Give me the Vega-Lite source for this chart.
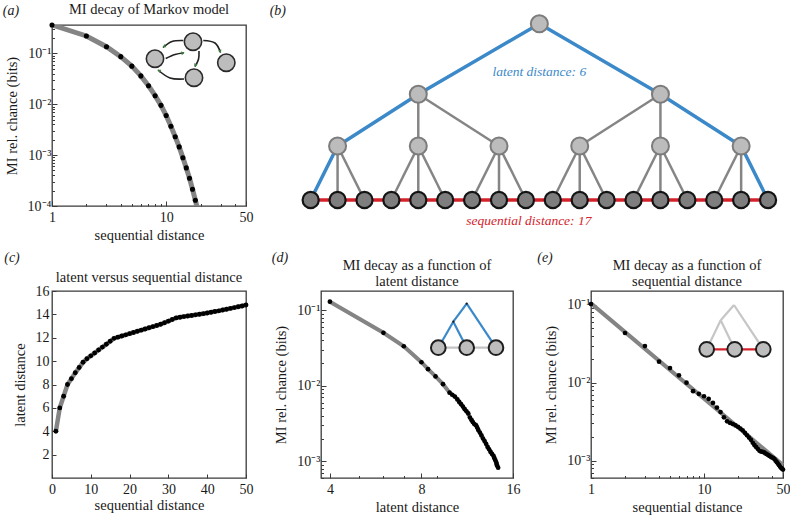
{
"$schema": "https://vega.github.io/schema/vega-lite/v6.json",
"padding": {"left": 2, "top": 0, "right": 0, "bottom": 0},
"background": "white",
"datasets": {
 "a_pts": [{"d":1,"mi":0.36},{"d":2,"mi":0.219},{"d":3,"mi":0.135},{"d":4,"mi":0.086},{"d":5,"mi":0.056},{"d":6,"mi":0.036},{"d":7,"mi":0.023},{"d":8,"mi":0.0147},{"d":9,"mi":0.0095},{"d":10,"mi":0.006},{"d":11,"mi":0.0037},{"d":12,"mi":0.0023},{"d":13,"mi":0.00145},{"d":14,"mi":0.00089},{"d":15,"mi":0.00056},{"d":16,"mi":0.00035},{"d":17,"mi":0.000214},{"d":18,"mi":0.00013}],
 "a_fit": [{"d":1,"mi":0.36},{"d":2,"mi":0.219},{"d":3,"mi":0.135},{"d":4,"mi":0.086},{"d":5,"mi":0.056},{"d":6,"mi":0.036},{"d":7,"mi":0.023},{"d":8,"mi":0.0147},{"d":9,"mi":0.0095},{"d":10,"mi":0.006},{"d":11,"mi":0.0037},{"d":12,"mi":0.0023},{"d":13,"mi":0.00145},{"d":14,"mi":0.00089},{"d":15,"mi":0.00056},{"d":16,"mi":0.00035},{"d":17,"mi":0.000214},{"d":18,"mi":0.00013},{"d":19,"mi":0.00008}],
 "a_nodes": [{"u":103,"v":33.7},{"u":141,"v":16.7},{"u":174.3,"v":37.7},{"u":142,"v":52.7}],
 "a_arcs": [
  {"arc":"A","k":0,"u":131.3,"v":15.5},{"arc":"A","k":1,"u":120,"v":16.5},{"arc":"A","k":2,"u":111,"v":22.5},
  {"arc":"B","k":0,"u":113.7,"v":33.5},{"arc":"B","k":1,"u":123,"v":29.5},{"arc":"B","k":2,"u":132,"v":27.7},
  {"arc":"C","k":0,"u":151.3,"v":15.5},{"arc":"C","k":1,"u":163,"v":18},{"arc":"C","k":2,"u":168.5,"v":27.5},
  {"arc":"D","k":0,"u":147,"v":26},{"arc":"D","k":1,"u":146.5,"v":34.3},{"arc":"D","k":2,"u":143,"v":41.5},
  {"arc":"E","k":0,"u":132,"v":54},{"arc":"E","k":1,"u":118,"v":53},{"arc":"E","k":2,"u":106,"v":45}],
 "a_heads": [{"u":112,"v":21.5,"ang":240},{"u":131,"v":28,"ang":76},{"u":168.3,"v":26.5,"ang":155},{"u":143.3,"v":40.5,"ang":200},{"u":107,"v":45.5,"ang":300}],
 "b_int": [{"x":8.5,"v":176.3},{"x":4,"v":105.7},{"x":13,"v":105.7},{"x":1,"v":54},{"x":4,"v":54},{"x":7,"v":54},{"x":10,"v":54},{"x":13,"v":54},{"x":16,"v":54}],
 "b_leaf": [{"x":0,"v":0},{"x":1,"v":0},{"x":2,"v":0},{"x":3,"v":0},{"x":4,"v":0},{"x":5,"v":0},{"x":6,"v":0},{"x":7,"v":0},{"x":8,"v":0},{"x":9,"v":0},{"x":10,"v":0},{"x":11,"v":0},{"x":12,"v":0},{"x":13,"v":0},{"x":14,"v":0},{"x":15,"v":0},{"x":16,"v":0},{"x":17,"v":0}],
 "b_gray": [
  {"x":4,"v":105.7,"x2":4,"v2":54},{"x":4,"v":105.7,"x2":7,"v2":54},
  {"x":13,"v":105.7,"x2":10,"v2":54},{"x":13,"v":105.7,"x2":13,"v2":54},
  {"x":1,"v":54,"x2":1,"v2":0},{"x":1,"v":54,"x2":2,"v2":0},
  {"x":4,"v":54,"x2":3,"v2":0},{"x":4,"v":54,"x2":4,"v2":0},{"x":4,"v":54,"x2":5,"v2":0},
  {"x":7,"v":54,"x2":6,"v2":0},{"x":7,"v":54,"x2":7,"v2":0},{"x":7,"v":54,"x2":8,"v2":0},
  {"x":10,"v":54,"x2":9,"v2":0},{"x":10,"v":54,"x2":10,"v2":0},{"x":10,"v":54,"x2":11,"v2":0},
  {"x":13,"v":54,"x2":12,"v2":0},{"x":13,"v":54,"x2":13,"v2":0},{"x":13,"v":54,"x2":14,"v2":0},
  {"x":16,"v":54,"x2":15,"v2":0},{"x":16,"v":54,"x2":16,"v2":0}],
 "b_blue": [
  {"x":0,"v":0,"x2":1,"v2":54},{"x":1,"v":54,"x2":4,"v2":105.7},{"x":4,"v":105.7,"x2":8.5,"v2":176.3},
  {"x":8.5,"v":176.3,"x2":13,"v2":105.7},{"x":13,"v":105.7,"x2":16,"v2":54},{"x":16,"v":54,"x2":17,"v2":0}],
 "b_red": [{"x":0,"v":0,"x2":17,"v2":0}],
 "c_pts": [{"d":1,"l":4.0},{"d":2,"l":6.0},{"d":3,"l":7.0},{"d":4,"l":8.0},{"d":5,"l":8.5},{"d":6,"l":9.0},{"d":7,"l":9.45},{"d":8,"l":9.9},{"d":9,"l":10.2},{"d":10,"l":10.45},{"d":11,"l":10.7},{"d":12,"l":10.95},{"d":13,"l":11.2},{"d":14,"l":11.45},{"d":15,"l":11.7},{"d":16,"l":11.95},{"d":17,"l":12.05},{"d":18,"l":12.15},{"d":19,"l":12.25},{"d":20,"l":12.35},{"d":21,"l":12.45},{"d":22,"l":12.55},{"d":23,"l":12.65},{"d":24,"l":12.75},{"d":25,"l":12.85},{"d":26,"l":12.95},{"d":27,"l":13.05},{"d":28,"l":13.15},{"d":29,"l":13.28},{"d":30,"l":13.42},{"d":31,"l":13.56},{"d":32,"l":13.7},{"d":33,"l":13.76},{"d":34,"l":13.81},{"d":35,"l":13.86},{"d":36,"l":13.91},{"d":37,"l":13.96},{"d":38,"l":14.01},{"d":39,"l":14.06},{"d":40,"l":14.12},{"d":41,"l":14.18},{"d":42,"l":14.24},{"d":43,"l":14.3},{"d":44,"l":14.37},{"d":45,"l":14.44},{"d":46,"l":14.51},{"d":47,"l":14.58},{"d":48,"l":14.65},{"d":49,"l":14.72},{"d":50,"l":14.8}],
 "d_pts": [{"l":4,"mi":0.13},{"l":6,"mi":0.0503},{"l":7,"mi":0.0334},{"l":8,"mi":0.0205},{"l":8.41,"mi":0.0166},{"l":8.9,"mi":0.0133},{"l":9.42,"mi":0.0105},{"l":9.9,"mi":0.0081},{"l":10.1,"mi":0.0076},{"l":10.3,"mi":0.0072},{"l":10.5,"mi":0.0066},{"l":10.65,"mi":0.0061},{"l":10.8,"mi":0.0057},{"l":10.95,"mi":0.0053},{"l":11.1,"mi":0.0049},{"l":11.25,"mi":0.0046},{"l":11.4,"mi":0.0043},{"l":11.55,"mi":0.0038},{"l":11.7,"mi":0.0035},{"l":11.8,"mi":0.0033},{"l":11.95,"mi":0.0031},{"l":12.1,"mi":0.003},{"l":12.2,"mi":0.0028},{"l":12.3,"mi":0.0026},{"l":12.45,"mi":0.0024},{"l":12.6,"mi":0.0022},{"l":12.75,"mi":0.002},{"l":12.9,"mi":0.00185},{"l":13.05,"mi":0.0017},{"l":13.2,"mi":0.00155},{"l":13.35,"mi":0.00144},{"l":13.5,"mi":0.00133},{"l":13.65,"mi":0.00125},{"l":13.8,"mi":0.00118},{"l":13.9,"mi":0.0011},{"l":14.0,"mi":0.00103},{"l":14.1,"mi":0.00096},{"l":14.15,"mi":0.0009},{"l":14.2,"mi":0.00087},{"l":14.3,"mi":0.00082}],
 "e_pts": [{"d":1,"mi":0.102},{"d":2,"mi":0.0434},{"d":3,"mi":0.0295},{"d":4,"mi":0.0186},{"d":5,"mi":0.0154},{"d":6,"mi":0.01245},{"d":7,"mi":0.01},{"d":8,"mi":0.0078},{"d":9,"mi":0.0072},{"d":10,"mi":0.0067},{"d":11,"mi":0.0062},{"d":12,"mi":0.0055},{"d":13,"mi":0.0048},{"d":14,"mi":0.0042},{"d":15,"mi":0.0036},{"d":16,"mi":0.0032},{"d":17,"mi":0.00305},{"d":18,"mi":0.00295},{"d":19,"mi":0.00283},{"d":20,"mi":0.00272},{"d":21,"mi":0.00258},{"d":22,"mi":0.00245},{"d":23,"mi":0.00228},{"d":24,"mi":0.00212},{"d":25,"mi":0.00198},{"d":26,"mi":0.00185},{"d":27,"mi":0.0017},{"d":28,"mi":0.00158},{"d":29,"mi":0.00149},{"d":30,"mi":0.00141},{"d":31,"mi":0.00134},{"d":32,"mi":0.00131},{"d":33,"mi":0.0013},{"d":34,"mi":0.00128},{"d":35,"mi":0.00124},{"d":36,"mi":0.00121},{"d":37,"mi":0.00118},{"d":38,"mi":0.00115},{"d":39,"mi":0.00112},{"d":40,"mi":0.0011},{"d":41,"mi":0.00108},{"d":42,"mi":0.00105},{"d":43,"mi":0.001},{"d":44,"mi":0.00096},{"d":45,"mi":0.00092},{"d":46,"mi":0.00088},{"d":47,"mi":0.00084},{"d":48,"mi":0.00081},{"d":49,"mi":0.00079},{"d":50,"mi":0.00077}],
 "e_fit": [{"d":1,"mi":0.104},{"d":50,"mi":0.00088}],
 "d_blue": [{"u":145.7,"v":12.7,"u2":132.3,"v2":30.7},{"u":132.3,"v":30.7,"u2":117.3,"v2":56.7},{"u":132.3,"v":30.7,"u2":145.7,"v2":56.7},{"u":145.7,"v":12.7,"u2":175,"v2":56.7}],
 "d_base": [{"u":117.3,"v":56.7,"u2":175,"v2":56.7}],
 "d_leaves": [{"u":117.3,"v":56.7},{"u":145.7,"v":56.7},{"u":175,"v":56.7}],
 "d_joints": [{"u":145.7,"v":12.7},{"u":132.3,"v":30.7}],
 "e_gray": [{"u":143,"v":14,"u2":129.7,"v2":29.3},{"u":129.7,"v":29.3,"u2":115.7,"v2":58.3},{"u":129.7,"v":29.3,"u2":143.7,"v2":58.3},{"u":143,"v":14,"u2":172.3,"v2":58.3}],
 "e_base": [{"u":115.7,"v":58.3,"u2":172.3,"v2":58.3}],
 "e_leaves": [{"u":115.7,"v":58.3},{"u":143.7,"v":58.3},{"u":172.3,"v":58.3}]
},
"vconcat": [
 {"hconcat": [
  {
   "width": 194, "height": 181,
   "layer": [
    {"layer": [
     {"data": {"name": "a_fit"}, "mark": {"type": "line", "color": "#848484", "strokeWidth": 5, "clip": true},
      "encoding": {
       "x": {"field": "d", "type": "quantitative", "scale": {"type": "log", "domain": [1, 50], "nice": false},
        "axis": {"title": "sequential distance", "values": [1,2,3,4,5,6,7,8,9,10,20,30,40,50], "tickCount": 50, "labelOverlap": false, "labelPadding": 9,
         "labelExpr": "datum.value == 1 || datum.value == 10 || datum.value == 50 ? '' + datum.value : ''",
         "tickSize": {"condition": {"test": "datum.value == 1 || datum.value == 10 || datum.value == 50", "value": -5}, "value": -2.5}}},
       "y": {"field": "mi", "type": "quantitative", "scale": {"type": "log", "domain": [0.0001, 0.36], "nice": false},
        "axis": {"title": "MI rel. chance (bits)", "tickCount": 50, "labelOverlap": false, "labelPadding": 6, "values": [0.0001,0.0002,0.0003,0.0004,0.0005,0.0006,0.0007,0.0008,0.0009,0.001,0.002,0.003,0.004,0.005,0.006,0.007,0.008,0.009,0.01,0.02,0.03,0.04,0.05,0.06,0.07,0.08,0.09,0.1,0.2,0.3],
         "labelExpr": "datum.value == 0.1 ? '10⁻¹' : datum.value == 0.01 ? '10⁻²' : datum.value == 0.001 ? '10⁻³' : datum.value == 0.0001 ? '10⁻⁴' : ''",
         "tickSize": {"condition": {"test": "datum.value == 0.1 || datum.value == 0.01 || datum.value == 0.001 || datum.value == 0.0001", "value": -5}, "value": -2.5}}}
      }},
     {"data": {"name": "a_pts"}, "mark": {"type": "circle", "color": "black", "size": 26, "opacity": 1},
      "encoding": {"x": {"field": "d", "type": "quantitative"}, "y": {"field": "mi", "type": "quantitative"}}}
    ]},
    {"layer": [
     {"data": {"name": "a_arcs"}, "mark": {"type": "line", "color": "#222222", "strokeWidth": 1.6, "interpolate": "natural"},
      "encoding": {
       "x": {"field": "u", "type": "quantitative", "scale": {"domain": [0, 194], "nice": false, "zero": false}, "axis": null},
       "y": {"field": "v", "type": "quantitative", "scale": {"domain": [0, 181], "nice": false, "zero": false, "reverse": true}, "axis": null},
       "detail": {"field": "arc"}, "order": {"field": "k"}}},
     {"data": {"name": "a_nodes"}, "mark": {"type": "circle", "fill": "#bdbdbd", "stroke": "#2a2a2a", "strokeWidth": 1.6, "size": 300, "opacity": 1},
      "encoding": {"x": {"field": "u", "type": "quantitative"}, "y": {"field": "v", "type": "quantitative"}}},
     {"data": {"name": "a_heads"}, "mark": {"type": "point", "shape": "triangle-up", "filled": true, "color": "#3f7f3f", "size": 14, "opacity": 1},
      "encoding": {"x": {"field": "u", "type": "quantitative"}, "y": {"field": "v", "type": "quantitative"}, "angle": {"field": "ang", "type": "quantitative", "scale": null}}},
     {"data": {"values": [{"t": "(a)"}]}, "mark": {"type": "text", "fontStyle": "italic", "fontSize": 14, "color": "#1a1a1a"},
      "encoding": {"x": {"datum": -41}, "y": {"datum": -14}, "text": {"field": "t"}}},
     {"data": {"values": [{"t": "MI decay of Markov model"}]}, "mark": {"type": "text", "fontSize": 14.5, "color": "#1a1a1a"},
      "encoding": {"x": {"datum": 97}, "y": {"datum": -15.5}, "text": {"field": "t"}}}
    ]}
   ],
   "resolve": {"scale": {"x": "independent", "y": "independent"}}
  },
  {
   "width": 512, "height": 200,
   "view": {"stroke": null},
   "layer": [
    {"data": {"name": "b_gray"}, "mark": {"type": "rule", "color": "#858585", "strokeWidth": 2.5},
     "encoding": {
      "x": {"field": "x", "type": "quantitative", "scale": {"domain": [-1.4, 17.63], "nice": false, "zero": false}, "axis": null},
      "y": {"field": "v", "type": "quantitative", "scale": {"domain": [-25, 175], "nice": false, "zero": false}, "axis": null},
      "x2": {"field": "x2"}, "y2": {"field": "v2"}}},
    {"data": {"name": "b_red"}, "mark": {"type": "rule", "color": "#d3222b", "strokeWidth": 3.5},
     "encoding": {"x": {"field": "x", "type": "quantitative"}, "y": {"field": "v", "type": "quantitative"}, "x2": {"field": "x2"}, "y2": {"field": "v2"}}},
    {"data": {"name": "b_blue"}, "mark": {"type": "rule", "color": "#3b89c9", "strokeWidth": 3.5, "strokeCap": "round"},
     "encoding": {"x": {"field": "x", "type": "quantitative"}, "y": {"field": "v", "type": "quantitative"}, "x2": {"field": "x2"}, "y2": {"field": "v2"}}},
    {"data": {"name": "b_int"}, "mark": {"type": "circle", "fill": "#bcbcbc", "stroke": "#7c7c7c", "strokeWidth": 2, "size": 290, "opacity": 1},
     "encoding": {"x": {"field": "x", "type": "quantitative"}, "y": {"field": "v", "type": "quantitative"}}},
    {"data": {"name": "b_leaf"}, "mark": {"type": "circle", "fill": "#7e7e7e", "stroke": "#141414", "strokeWidth": 2.2, "size": 260, "opacity": 1},
     "encoding": {"x": {"field": "x", "type": "quantitative"}, "y": {"field": "v", "type": "quantitative"}}},
    {"data": {"values": [{"t": "latent distance: 6"}]}, "mark": {"type": "text", "fontStyle": "italic", "fontSize": 13.5, "color": "#3b89c9"},
     "encoding": {"x": {"datum": 8.5}, "y": {"datum": 128}, "text": {"field": "t"}}},
    {"data": {"values": [{"t": "sequential distance: 17"}]}, "mark": {"type": "text", "fontStyle": "italic", "fontSize": 13.5, "color": "#d3222b"},
     "encoding": {"x": {"datum": 8.11}, "y": {"datum": -21}, "text": {"field": "t"}}},
    {"data": {"values": [{"t": "(b)"}]}, "mark": {"type": "text", "fontStyle": "italic", "fontSize": 14, "color": "#1a1a1a"},
     "encoding": {"x": {"datum": -1.22}, "y": {"datum": 189}, "text": {"field": "t"}}}
   ]
  }
 ], "spacing": 15},
 {"hconcat": [
  {
   "width": 194, "height": 187,
   "layer": [
    {"layer": [
     {"data": {"name": "c_pts"}, "mark": {"type": "line", "color": "#848484", "strokeWidth": 4.5},
      "encoding": {
       "x": {"field": "d", "type": "quantitative", "scale": {"domain": [0, 50], "nice": false, "zero": false},
        "axis": {"title": "sequential distance", "values": [0,10,20,30,40,50], "format": "d", "tickCount": 50, "labelOverlap": false, "tickSize": -4, "labelPadding": 8}},
       "y": {"field": "l", "type": "quantitative", "scale": {"domain": [0, 16], "nice": false, "zero": false},
        "axis": {"title": "latent distance", "values": [2,4,6,8,10,12,14,16], "format": "d", "tickCount": 50, "labelOverlap": false, "tickSize": -4, "labelPadding": 7}}}},
     {"data": {"name": "c_pts"}, "mark": {"type": "circle", "color": "black", "size": 24, "opacity": 1},
      "encoding": {"x": {"field": "d", "type": "quantitative"}, "y": {"field": "l", "type": "quantitative"}}}
    ]},
    {"layer": [
     {"data": {"values": [{"t": "(c)"}]}, "mark": {"type": "text", "fontStyle": "italic", "fontSize": 14, "color": "#1a1a1a"},
      "encoding": {
       "x": {"datum": -40, "type": "quantitative", "scale": {"domain": [0, 194], "nice": false, "zero": false}, "axis": null},
       "y": {"datum": -33, "type": "quantitative", "scale": {"domain": [0, 187], "nice": false, "zero": false, "reverse": true}, "axis": null},
       "text": {"field": "t"}}},
     {"data": {"values": [{"t": "latent versus sequential distance"}]}, "mark": {"type": "text", "fontSize": 14.5, "color": "#1a1a1a"},
      "encoding": {"x": {"datum": 97}, "y": {"datum": -13}, "text": {"field": "t"}}}
    ]}
   ],
   "resolve": {"scale": {"x": "independent", "y": "independent"}}
  },
  {
   "width": 192, "height": 187,
   "layer": [
    {"layer": [
     {"data": {"name": "d_pts"}, "mark": {"type": "line", "color": "#848484", "strokeWidth": 4},
      "encoding": {
       "x": {"field": "l", "type": "quantitative", "scale": {"type": "log", "domain": [3.74, 16], "nice": false},
        "axis": {"title": "latent distance", "values": [4,5,6,7,8,9,16], "tickCount": 50, "labelOverlap": false, "labelPadding": 9,
         "labelExpr": "datum.value == 4 || datum.value == 8 || datum.value == 16 ? '' + datum.value : ''",
         "tickSize": {"condition": {"test": "datum.value == 4 || datum.value == 8 || datum.value == 16", "value": -5}, "value": -2.5}}},
       "y": {"field": "mi", "type": "quantitative", "scale": {"type": "log", "domain": [0.0006, 0.18], "nice": false},
        "axis": {"title": "MI rel. chance (bits)", "tickCount": 50, "labelOverlap": false, "labelPadding": 6, "values": [0.0006,0.0007,0.0008,0.0009,0.001,0.002,0.003,0.004,0.005,0.006,0.007,0.008,0.009,0.01,0.02,0.03,0.04,0.05,0.06,0.07,0.08,0.09,0.1],
         "labelExpr": "datum.value == 0.1 ? '10⁻¹' : datum.value == 0.01 ? '10⁻²' : datum.value == 0.001 ? '10⁻³' : ''",
         "tickSize": {"condition": {"test": "datum.value == 0.1 || datum.value == 0.01 || datum.value == 0.001", "value": -5}, "value": -2.5}}}
      }},
     {"data": {"name": "d_pts"}, "mark": {"type": "circle", "color": "black", "size": 22, "opacity": 1},
      "encoding": {"x": {"field": "l", "type": "quantitative"}, "y": {"field": "mi", "type": "quantitative"}}}
    ]},
    {"layer": [
     {"data": {"name": "d_base"}, "mark": {"type": "rule", "color": "#c4c4c4", "strokeWidth": 2.2},
      "encoding": {
       "x": {"field": "u", "type": "quantitative", "scale": {"domain": [0, 192], "nice": false, "zero": false}, "axis": null},
       "y": {"field": "v", "type": "quantitative", "scale": {"domain": [0, 187], "nice": false, "zero": false, "reverse": true}, "axis": null},
       "x2": {"field": "u2"}, "y2": {"field": "v2"}}},
     {"data": {"name": "d_blue"}, "mark": {"type": "rule", "color": "#3b89c9", "strokeWidth": 2.2},
      "encoding": {"x": {"field": "u", "type": "quantitative"}, "y": {"field": "v", "type": "quantitative"}, "x2": {"field": "u2"}, "y2": {"field": "v2"}}},
     {"data": {"name": "d_joints"}, "mark": {"type": "circle", "color": "#1a1a1a", "size": 5, "opacity": 1},
      "encoding": {"x": {"field": "u", "type": "quantitative"}, "y": {"field": "v", "type": "quantitative"}}},
     {"data": {"name": "d_leaves"}, "mark": {"type": "circle", "fill": "#bdbdbd", "stroke": "#1e1e1e", "strokeWidth": 2, "size": 215, "opacity": 1},
      "encoding": {"x": {"field": "u", "type": "quantitative"}, "y": {"field": "v", "type": "quantitative"}}},
     {"data": {"values": [{"t": "(d)"}]}, "mark": {"type": "text", "fontStyle": "italic", "fontSize": 14, "color": "#1a1a1a"},
      "encoding": {"x": {"datum": -41}, "y": {"datum": -33}, "text": {"field": "t"}}},
     {"data": {"values": [{"t": ["MI decay as a function of", "latent distance"]}]}, "mark": {"type": "text", "fontSize": 14.5, "lineHeight": 16, "color": "#1a1a1a"},
      "encoding": {"x": {"datum": 96}, "y": {"datum": -25}, "text": {"field": "t"}}}
    ]}
   ],
   "resolve": {"scale": {"x": "independent", "y": "independent"}}
  },
  {
   "width": 192, "height": 187,
   "layer": [
    {"layer": [
     {"data": {"name": "e_fit"}, "mark": {"type": "line", "color": "#848484", "strokeWidth": 4},
      "encoding": {
       "x": {"field": "d", "type": "quantitative", "scale": {"type": "log", "domain": [1, 50], "nice": false},
        "axis": {"title": "sequential distance", "values": [1,2,3,4,5,6,7,8,9,10,20,30,40,50], "tickCount": 50, "labelOverlap": false, "labelPadding": 9,
         "labelExpr": "datum.value == 1 || datum.value == 10 || datum.value == 50 ? '' + datum.value : ''",
         "tickSize": {"condition": {"test": "datum.value == 1 || datum.value == 10 || datum.value == 50", "value": -5}, "value": -2.5}}},
       "y": {"field": "mi", "type": "quantitative", "scale": {"type": "log", "domain": [0.0006, 0.15], "nice": false},
        "axis": {"title": "MI rel. chance (bits)", "tickCount": 50, "labelOverlap": false, "labelPadding": 6, "values": [0.0006,0.0007,0.0008,0.0009,0.001,0.002,0.003,0.004,0.005,0.006,0.007,0.008,0.009,0.01,0.02,0.03,0.04,0.05,0.06,0.07,0.08,0.09,0.1],
         "labelExpr": "datum.value == 0.1 ? '10⁻¹' : datum.value == 0.01 ? '10⁻²' : datum.value == 0.001 ? '10⁻³' : ''",
         "tickSize": {"condition": {"test": "datum.value == 0.1 || datum.value == 0.01 || datum.value == 0.001", "value": -5}, "value": -2.5}}}
      }},
     {"data": {"name": "e_pts"}, "mark": {"type": "circle", "color": "black", "size": 22, "opacity": 1},
      "encoding": {"x": {"field": "d", "type": "quantitative"}, "y": {"field": "mi", "type": "quantitative"}}}
    ]},
    {"layer": [
     {"data": {"name": "e_gray"}, "mark": {"type": "rule", "color": "#c6c6c6", "strokeWidth": 2.2},
      "encoding": {
       "x": {"field": "u", "type": "quantitative", "scale": {"domain": [0, 192], "nice": false, "zero": false}, "axis": null},
       "y": {"field": "v", "type": "quantitative", "scale": {"domain": [0, 187], "nice": false, "zero": false, "reverse": true}, "axis": null},
       "x2": {"field": "u2"}, "y2": {"field": "v2"}}},
     {"data": {"name": "e_base"}, "mark": {"type": "rule", "color": "#d3222b", "strokeWidth": 2.2},
      "encoding": {"x": {"field": "u", "type": "quantitative"}, "y": {"field": "v", "type": "quantitative"}, "x2": {"field": "u2"}, "y2": {"field": "v2"}}},
     {"data": {"name": "e_leaves"}, "mark": {"type": "circle", "fill": "#bdbdbd", "stroke": "#1e1e1e", "strokeWidth": 2, "size": 215, "opacity": 1},
      "encoding": {"x": {"field": "u", "type": "quantitative"}, "y": {"field": "v", "type": "quantitative"}}},
     {"data": {"values": [{"t": "(e)"}]}, "mark": {"type": "text", "fontStyle": "italic", "fontSize": 14, "color": "#1a1a1a"},
      "encoding": {"x": {"datum": -46}, "y": {"datum": -33}, "text": {"field": "t"}}},
     {"data": {"values": [{"t": ["MI decay as a function of", "sequential distance"]}]}, "mark": {"type": "text", "fontSize": 14.5, "lineHeight": 16, "color": "#1a1a1a"},
      "encoding": {"x": {"datum": 96}, "y": {"datum": -25}, "text": {"field": "t"}}}
    ]}
   ],
   "resolve": {"scale": {"x": "independent", "y": "independent"}}
  }
 ], "spacing": 15}
],
"spacing": 7,
"config": {
 "font": "Liberation Serif",
 "view": {"stroke": "#3a3a3a", "strokeWidth": 1.3},
 "axis": {"domain": false, "grid": false, "labelFont": "Liberation Serif", "labelFontSize": 14, "labelColor": "#1a1a1a", "labelFlush": false, "labelOverlap": false, "tickColor": "#3a3a3a", "tickWidth": 1, "titleFont": "Liberation Serif", "titleFontSize": 14.5, "titleFontWeight": "normal", "titleColor": "#1a1a1a"},
 "axisX": {"titlePadding": 2},
 "axisY": {"titlePadding": 8},
 "text": {"font": "Liberation Serif"}
}
}
